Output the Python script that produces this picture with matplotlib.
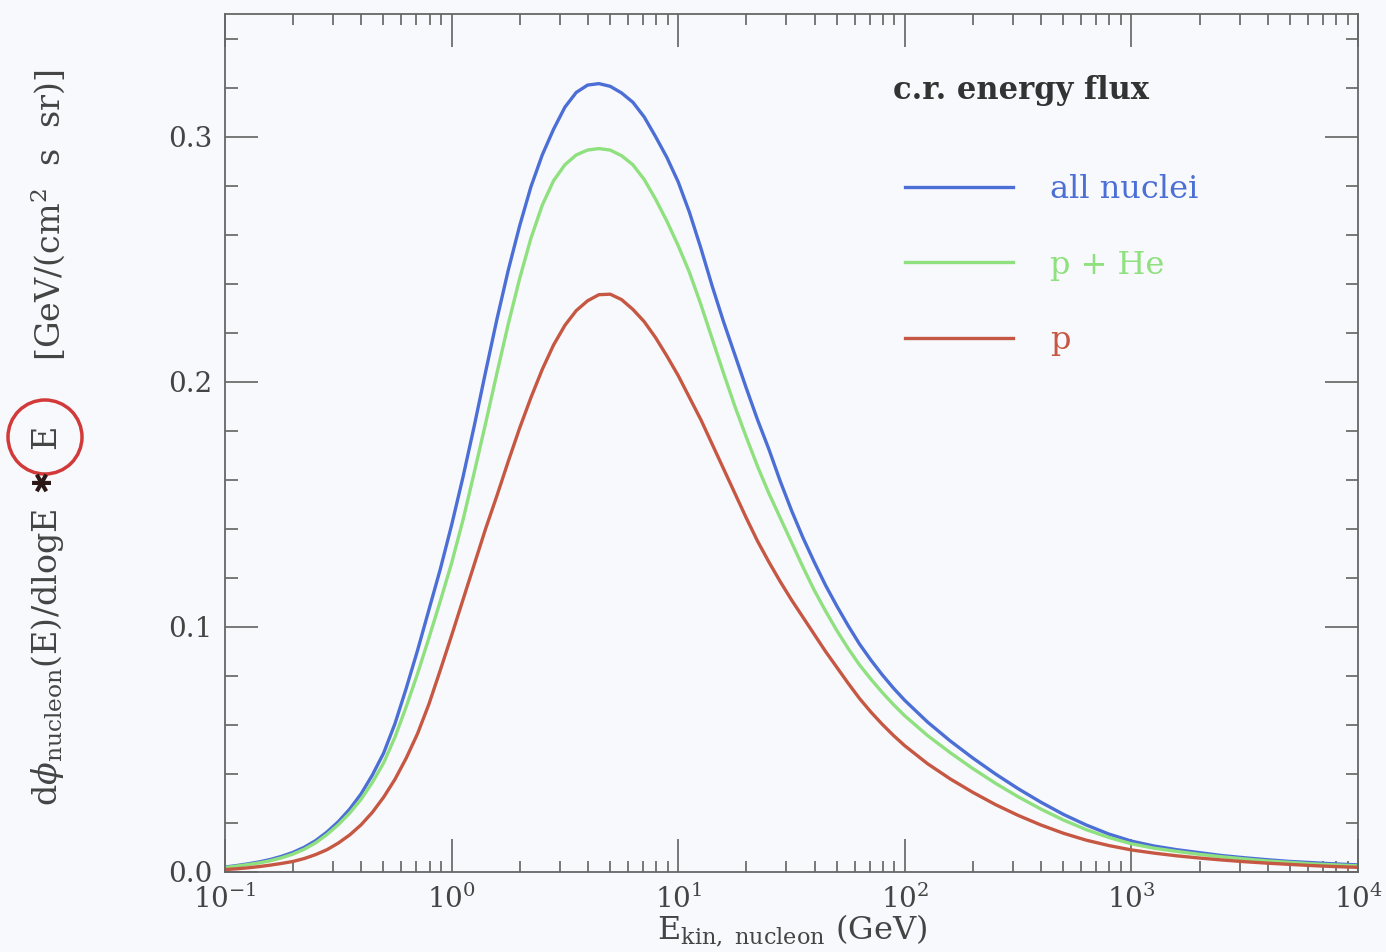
import numpy as np
import matplotlib
matplotlib.use("Agg")
import matplotlib.pyplot as plt
from matplotlib.patches import Ellipse
from matplotlib.ticker import LogLocator, MultipleLocator

plt.rcParams['font.family'] = ['DejaVu Serif']
plt.rcParams['mathtext.fontset'] = 'dejavuserif'

# rejilla en log10(E/GeV): pasos de 0.05 hasta 10^2, luego 0.1
log_e = np.concatenate([np.arange(-1.0, 2.001, 0.05), np.arange(2.1, 4.001, 0.1)])
energy = 10 ** log_e

# flujo de energia (GeV/(cm^2 s sr))
all_nuclei = [0.0020, 0.0026, 0.0033, 0.0041, 0.0051, 0.0064, 0.0080, 0.0101, 0.0128, 0.0163,
              0.0205, 0.0256, 0.0318, 0.0395, 0.0485, 0.0605, 0.0750, 0.0905, 0.1070, 0.1235,
              0.1415, 0.1610, 0.1820, 0.2040, 0.2255, 0.2455, 0.2635, 0.2795, 0.2925, 0.3030,
              0.3120, 0.3180, 0.3210, 0.3216, 0.3205, 0.3178, 0.3140, 0.3080, 0.3000, 0.2915,
              0.2815, 0.2690, 0.2545, 0.2390, 0.2245, 0.2110, 0.1975, 0.1845, 0.1725, 0.1595,
              0.1475, 0.1365, 0.1265, 0.1170, 0.1085, 0.1005, 0.0930, 0.0865, 0.0805, 0.0750,
              0.0700,
              0.0612, 0.0535, 0.0465, 0.0400, 0.0340, 0.0285, 0.0235, 0.0192, 0.0155, 0.0126,
              0.0106, 0.0091, 0.0079, 0.0067, 0.0058, 0.0050, 0.0043, 0.0038, 0.0033, 0.0029]
p_he = [0.0018, 0.0024, 0.0030, 0.0037, 0.0046, 0.0058, 0.0073, 0.0093, 0.0119, 0.0153,
        0.0193, 0.0240, 0.0296, 0.0365, 0.0445, 0.0550, 0.0675, 0.0810, 0.0955, 0.1105,
        0.1260, 0.1435, 0.1630, 0.1830, 0.2035, 0.2235, 0.2420, 0.2585, 0.2720, 0.2820,
        0.2885, 0.2925, 0.2945, 0.2951, 0.2945, 0.2922, 0.2885, 0.2825, 0.2745, 0.2655,
        0.2555, 0.2445, 0.2315, 0.2175, 0.2035, 0.1900, 0.1775, 0.1655, 0.1545, 0.1445,
        0.1345, 0.1245, 0.1150, 0.1065, 0.0985, 0.0912, 0.0845, 0.0787, 0.0733, 0.0683,
        0.0637,
        0.0557, 0.0487, 0.0422, 0.0362, 0.0307, 0.0257, 0.0212, 0.0173, 0.0141, 0.0115,
        0.0097, 0.0084, 0.0072, 0.0062, 0.0053, 0.0045, 0.0039, 0.0033, 0.0029, 0.0025]
protons = [0.0010, 0.0013, 0.0017, 0.0022, 0.0028, 0.0035, 0.0043, 0.0055, 0.0071, 0.0091,
           0.0118, 0.0151, 0.0192, 0.0243, 0.0305, 0.0378, 0.0465, 0.0565, 0.0685, 0.0823,
           0.0965, 0.1110, 0.1255, 0.1400, 0.1535, 0.1675, 0.1810, 0.1935, 0.2050, 0.2150,
           0.2230, 0.2290, 0.2330, 0.2355, 0.2357, 0.2335, 0.2295, 0.2245, 0.2180, 0.2105,
           0.2025, 0.1935, 0.1845, 0.1745, 0.1645, 0.1545, 0.1445, 0.1350, 0.1265, 0.1185,
           0.1110, 0.1040, 0.0970, 0.0900, 0.0835, 0.0770, 0.0708, 0.0653, 0.0603, 0.0557,
           0.0515,
           0.0442, 0.0380, 0.0325, 0.0275, 0.0231, 0.0192, 0.0158, 0.0130, 0.0108, 0.0090,
           0.0077, 0.0066, 0.0057, 0.0049, 0.0042, 0.0036, 0.0031, 0.0026, 0.0022, 0.0019]

series = [("all nuclei", all_nuclei, "#4c6fd6"),
          ("p + He", p_he, "#8fe07e"),
          ("p", protons, "#c65843")]

bg = "#f8f9fd"
fig = plt.figure(figsize=(13.86, 9.52), dpi=100, facecolor=bg)
ax = fig.add_axes([225/1386, 80/952, 1133/1386, 858/952], facecolor=bg)

for name, vals, col in series:
    ax.plot(energy, vals, color=col, lw=2.4, label=name)

ax.set_xscale("log")
ax.set_xlim(0.1, 1e4)
ax.set_ylim(0, 0.35)
ax.yaxis.set_major_locator(MultipleLocator(0.1))
ax.yaxis.set_minor_locator(MultipleLocator(0.02))
ax.xaxis.set_major_locator(LogLocator(base=10, numticks=10))
ax.xaxis.set_minor_locator(LogLocator(base=10, subs=np.arange(2, 10), numticks=20))
ax.yaxis.set_major_formatter(plt.FuncFormatter(lambda v, p: f"{v:.1f}"))

for s in ax.spines.values():
    s.set_color("#666666")
    s.set_linewidth(1.3)
ax.tick_params(which="both", direction="in", top=True, right=True,
               color="#555555", width=1.1, labelsize=20, labelcolor="#444444")
ax.tick_params(which="major", length=24, pad=9)
ax.tick_params(axis="y", which="minor", length=9)
ax.tick_params(axis="x", which="minor", length=8)

ax.set_xlabel(r"E$_{\rm kin,\ nucleon}$ (GeV)", fontsize=23, color="#444444", labelpad=-1)

# etiqueta del eje y por partes (con la E marcada)
lab_kw = dict(rotation=90, ha="center", va="center", fontsize=24, color="#444444")
fig.text(48/1386, 1 - 657/952, r"d$\phi_{\rm nucleon}$(E)/dlogE", **lab_kw)
fig.text(43/1386, 1 - 481/952, "\u2731", va="center", rotation=90, ha="center",
         fontsize=19, color="#2b1616", family=["DejaVu Sans"])
fig.text(46/1386, 1 - 437/952, "E", **lab_kw)
fig.text(48/1386, 1 - 215/952, r"[GeV/(cm$^2$  s  sr)]", **lab_kw)
fig.patches.append(Ellipse((45/1386, 1 - 437/952), 74/1386, 74/952,
                           transform=fig.transFigure, fill=False,
                           edgecolor="#d23a3a", lw=2.5))

ax.text(0.5896, 0.9114, "c.r. energy flux", transform=ax.transAxes, fontsize=22,
        fontweight="bold", color="#333333", ha="left", va="center")
ax.legend(loc="upper left", bbox_to_anchor=(0.586, 0.832), frameon=False,
          fontsize=23, handlelength=3.38, handletextpad=1.16, labelspacing=1.39,
          borderpad=0, labelcolor="linecolor")

fig.savefig("out.png", dpi=100, facecolor=bg)
plt.close(fig)
